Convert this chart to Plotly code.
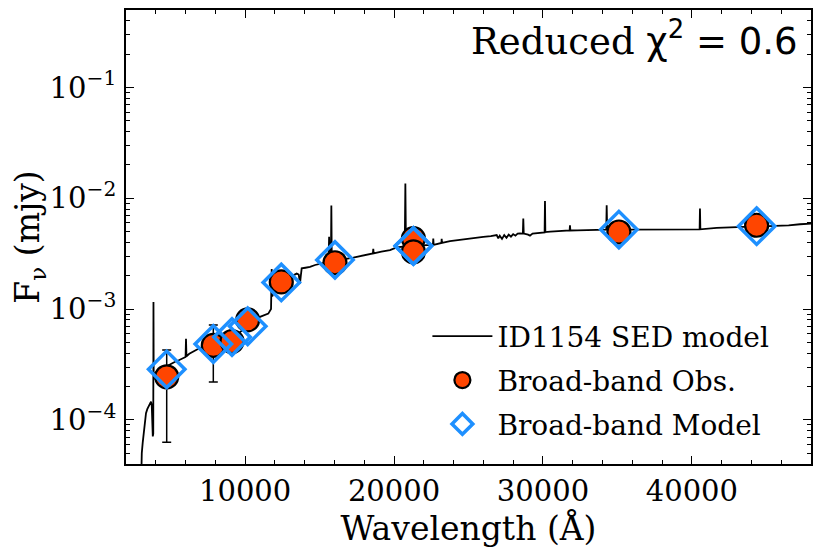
import math
import plotly.graph_objects as go

# ---------------- data ----------------
sed_wave = [2950, 3007, 3060, 3121, 3180, 3229, 3290, 3343, 3430, 3524,
            3600, 3679, 3730, 3770, 3800, 3830, 3845, 3860, 3880, 3930,
            3967, 4100, 4300, 4500, 4700, 4900, 5100, 5300, 5579, 5800,
            6000, 6029, 6060, 6250, 6479, 6700, 6922, 7200, 7500, 7863,
            8200, 8600, 9118, 9600, 10172, 10600, 10998, 11300, 11556, 11740,
            11784, 11820, 11891, 12050, 12250, 12428, 12700, 13000, 13250, 13463,
            13600, 13684, 13740, 13798, 14050, 14356, 14700, 15027, 15250, 15600,
            15640, 15680, 15760, 15790, 15820, 16034, 16500, 17263, 17900, 18580,
            18606, 18630, 19150, 19728, 20178, 20500, 20720, 20760, 20800, 21000,
            21400, 21900, 22528, 22610, 22635, 22660, 23180, 23199, 23220, 23757,
            24300, 24878, 25400, 25993, 26500, 26893, 27000, 27100, 27250, 27400,
            27550, 27700, 27850, 28000, 28150, 28300, 28457, 28650, 28679, 28710,
            29000, 29129, 29300, 29579, 29900, 30110, 30136, 30160, 30500, 30922,
            31400, 31790, 31815, 31840, 32300, 32936, 33400, 33829, 34250, 34279,
            34310, 35100, 36066, 37200, 38308, 39300, 40322, 40520, 40544, 40570,
            41665, 42400, 43229, 44300, 45694, 46500, 47261, 47932, 48600]
sed_flux = [1.0e-5, 3.6e-5, 5.0e-5, 6.2e-5, 7.6e-5, 8.7e-5, 1.02e-4, 1.15e-4, 1.25e-4, 1.32e-4,
            1.40e-4, 1.46e-4, 1.35e-4, 1.0e-4, 7.1e-5, 7.5e-5, 1.16e-3, 2.3e-4, 2.5e-4, 2.6e-4,
            2.65e-4, 2.75e-4, 2.85e-4, 2.95e-4, 3.05e-4, 3.15e-4, 3.25e-4, 3.35e-4, 3.47e-4, 3.6e-4,
            3.7e-4, 5.4e-4, 3.75e-4, 3.95e-4, 4.12e-4, 4.25e-4, 4.43e-4, 4.55e-4, 4.65e-4, 4.8e-4,
            4.95e-4, 5.15e-4, 5.5e-4, 6.1e-4, 7.0e-4, 7.9e-4, 8.5e-4, 8.8e-4, 9.1e-4, 1.0e-3,
            2.3e-3, 1.3e-3, 1.38e-3, 1.5e-3, 1.62e-3, 1.72e-3, 1.85e-3, 1.95e-3, 2.03e-3, 2.09e-3,
            2.05e-3, 1.7e-3, 2.0e-3, 2.33e-3, 2.36e-3, 2.40e-3, 2.5e-3, 2.58e-3, 2.6e-3, 2.62e-3,
            4.5e-3, 2.63e-3, 2.64e-3, 8.6e-3, 2.65e-3, 2.7e-3, 2.8e-3, 2.92e-3, 3.05e-3, 3.18e-3,
            3.5e-3, 3.18e-3, 3.3e-3, 3.40e-3, 3.6e-3, 3.65e-3, 3.68e-3, 1.36e-2, 3.7e-3, 3.72e-3,
            3.75e-3, 3.76e-3, 3.78e-3, 3.8e-3, 4.33e-3, 3.8e-3, 3.95e-3, 4.3e-3, 3.95e-3, 4.1e-3,
            4.2e-3, 4.33e-3, 4.4e-3, 4.48e-3, 4.55e-3, 4.65e-3, 4.35e-3, 4.6e-3, 4.3e-3, 4.65e-3,
            4.4e-3, 4.7e-3, 4.5e-3, 4.75e-3, 4.6e-3, 4.8e-3, 4.81e-3, 4.8e-3, 6.56e-3, 4.8e-3,
            4.7e-3, 4.6e-3, 4.8e-3, 4.86e-3, 4.9e-3, 4.92e-3, 9.46e-3, 4.95e-3, 5.0e-3, 5.05e-3,
            5.1e-3, 5.12e-3, 5.71e-3, 5.12e-3, 5.13e-3, 5.15e-3, 5.18e-3, 5.22e-3, 5.22e-3, 8.65e-3,
            5.22e-3, 5.22e-3, 5.22e-3, 5.17e-3, 5.15e-3, 5.2e-3, 5.22e-3, 5.23e-3, 8.07e-3, 5.25e-3,
            5.40e-3, 5.45e-3, 5.51e-3, 5.55e-3, 5.60e-3, 5.7e-3, 5.83e-3, 5.91e-3, 5.95e-3]

obs_wave = [4733, 7863, 9118, 10172, 12428, 16034, 21300, 21300, 35100, 44350]
obs_flux = [2.45e-4, 4.7e-4, 5.1e-4, 8.0e-4, 1.76e-3, 2.62e-3, 4.33e-3, 3.28e-3, 4.96e-3, 5.71e-3]
obs_err = [1.82e-4, 2.5e-4, 2.0e-5, 3.0e-5, 6.0e-5, 1.0e-4, 1.5e-4, 1.2e-4, 1.5e-4, 2.0e-4]
model_flux = [2.86e-4, 4.84e-4, 5.6e-4, 7.0e-4, 1.74e-3, 2.78e-3, 3.72e-3, 3.70e-3, 5.22e-3, 5.6e-3]

y_tickvals = [1e-4, 1e-3, 1e-2, 1e-1]
y_ticktext = ["10<sup>−4</sup>", "10<sup>−3</sup>", "10<sup>−2</sup>", "10<sup>−1</sup>"]

x_range = [2000, 48000]
y_range = [4e-5, 0.5]

FONT = "DejaVu Serif"

fig = go.Figure()
fig.add_trace(go.Scatter(
    x=sed_wave, y=sed_flux, mode="lines", name="ID1154 SED model",
    line=dict(color="black", width=1.8), legendgroup="a"))
fig.add_trace(go.Scatter(
    x=obs_wave, y=obs_flux, mode="markers", name="Broad-band Obs.",
    marker=dict(symbol="circle", size=23, color="#FF4500",
                line=dict(color="black", width=2.2)),
    error_y=dict(type="data", array=obs_err, color="black", thickness=1.5, width=4.5),
    legendgroup="b"))
fig.add_trace(go.Scatter(
    x=obs_wave, y=model_flux, mode="markers", name="Broad-band Model",
    marker=dict(symbol="diamond-open", size=28, color="#1E90FF",
                line=dict(color="#1E90FF", width=3.5)),
    legendgroup="c"))

# the page body adds an 8 px offset, margins compensate for it
fig.update_layout(
    width=830, height=554,
    margin=dict(l=118, r=27, t=2, b=98, autoexpand=False),
    paper_bgcolor="white", plot_bgcolor="white",
    font=dict(family=FONT, color="black", size=28),
    showlegend=True,
    legend=dict(x=0.44, y=0.336, xanchor="left", yanchor="top",
                font=dict(family=FONT, size=28), bgcolor="rgba(0,0,0,0)",
                tracegroupgap=4.5, itemwidth=60),
    xaxis=dict(range=x_range, showgrid=False, zeroline=False, automargin=False,
               showline=True, linecolor="black", linewidth=1.6, mirror="allticks",
               ticks="inside", ticklen=8, tickwidth=1.3, tickcolor="black",
               dtick=10000, tick0=0, tickformat="d",
               tickfont=dict(family=FONT, size=29),
               minor=dict(ticks="inside", ticklen=4, tickwidth=1.1, dtick=2000,
                          tickcolor="black", showgrid=False),
               title=dict(text="Wavelength (Å)", font=dict(family=FONT, size=33), standoff=6)),
    yaxis=dict(type="log", range=[math.log10(y_range[0]), math.log10(y_range[1])],
               showgrid=False, zeroline=False, automargin=False,
               showline=True, linecolor="black", linewidth=1.6, mirror="allticks",
               ticks="inside", ticklen=8, tickwidth=1.3, tickcolor="black",
               tickvals=y_tickvals, ticktext=y_ticktext,
               tickfont=dict(family=FONT, size=29), ticklabelstandoff=2,
               minor=dict(ticks="inside", ticklen=4, tickwidth=1.1, dtick="D1",
                          tickcolor="black", showgrid=False),
               title=dict(text="F<sub>ν</sub> (mjy)", font=dict(family=FONT, size=33), standoff=6)),
)

fig.add_annotation(
    xref="paper", yref="paper", x=0.984, y=0.937, xanchor="right", yanchor="middle",
    showarrow=False,
    text="Reduced <span style='font-family:DejaVu Sans'>χ<sup>2</sup> = 0.6</span>",
    font=dict(family=FONT, size=37, color="black"))

fig.write_html("out.html")
